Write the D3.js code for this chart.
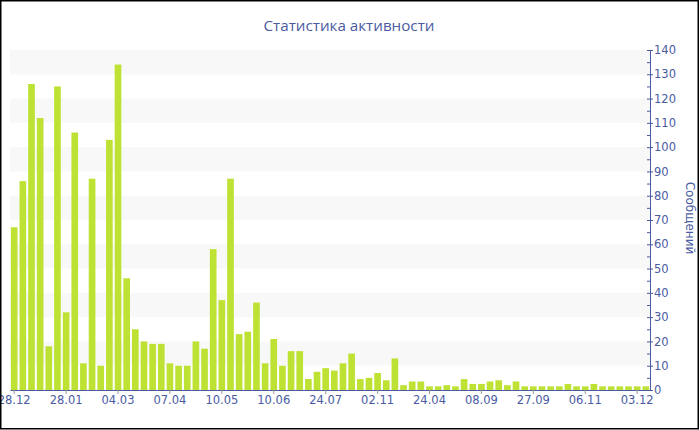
<!DOCTYPE html>
<html lang='ru'>
<head>
  <meta charset='UTF-8'/>
  <title>Статистика активности</title>
  <script src='https://d3js.org/d3.v7.min.js'></script>
  <style>
    body { margin: 0; background: #fff; }
    svg text { font-family: 'DejaVu Sans', Verdana, sans-serif; }
  </style>
</head>
<body>
  <div id="chart"></div>
<script>

// messages per period
const values = [
  67, 86, 126, 112, 18, 125, 32, 106, 11, 87,
  10, 103, 134, 46, 25, 20, 19, 19, 11, 10,
  10, 20, 17, 58, 37, 87, 23, 24, 36, 11,
  21, 10, 16, 16, 4.5, 7.5, 9, 8, 11, 15,
  4.5, 5, 7, 4, 13, 2, 3.5, 3.5, 1.5, 1.5,
  2, 1.5, 4.5, 2.5, 2.5, 3.5, 4, 2, 3.5, 1.5,
  1.5, 1.5, 1.5, 1.5, 2.5, 1.5, 1.5, 2.5, 1.5, 1.5,
  1.5, 1.5, 1.5, 1.5
];
const categories = values.map((d, i) => i);

// labels shown under every 6th bar
const tickLabels = ['28.12', '28.01', '04.03', '07.04', '10.05', '10.06', '24.07',
                    '02.11', '24.04', '08.09', '27.09', '06.11', '03.12'];
const labelStep = 6;

const yTicks = d3.range(0, 141, 10);

const title = 'Статистика активности';
const yTitle = 'Сообщений';

const width = 700, height = 430;
const plotLeft = 10, plotRight = 650, plotTop = 50, plotBottom = 390;
const textColor = '#4a5ba2';

const svg = d3.select('#chart').append('svg')
  .attr('width', width)
  .attr('height', height);

const x = d3.scaleBand()
  .domain(categories)
  .range([plotLeft, plotRight])
  .paddingInner(0.23)
  .paddingOuter(0.1);

const y = d3.scaleLinear()
  .domain([0, 140])
  .range([plotBottom, plotTop]);

// alternating bands
svg.append('g')
  .selectAll('rect')
  .data(yTicks.filter(t => t % 20 === 10))
  .join('rect')
    .attr('x', plotLeft)
    .attr('width', plotRight - plotLeft)
    .attr('y', d => y(d + 10))
    .attr('height', d => y(d) - y(d + 10))
    .attr('fill', '#f8f8f8');

// bars
svg.append('g')
  .selectAll('rect')
  .data(values)
  .join('rect')
    .attr('x', (d, i) => x(i))
    .attr('width', x.bandwidth())
    .attr('y', d => y(d))
    .attr('height', d => y(0) - y(d))
    .attr('fill', '#bde234');

// x axis
const xAxis = svg.append('g')
  .attr('transform', `translate(0,${plotBottom})`)
  .call(d3.axisBottom(x)
    .tickValues(categories.filter(i => i % labelStep === 0))
    .tickFormat(i => tickLabels[i / labelStep])
    .tickSize(4)
    .tickSizeOuter(0));
xAxis.select('.domain').attr('stroke', textColor);
xAxis.selectAll('.tick line').attr('stroke', '#999');
xAxis.selectAll('.tick text')
  .attr('fill', textColor)
  .attr('font-size', 11.5)
  .attr('y', 6);

// y axis, minor ticks first
const yMinor = svg.append('g')
  .attr('transform', `translate(${plotRight},0)`)
  .call(d3.axisRight(y)
    .tickValues(d3.range(5, 140, 10))
    .tickSize(0)
    .tickFormat(''));
yMinor.select('.domain').remove();
yMinor.selectAll('.tick line').attr('x1', -3).attr('x2', 0).attr('stroke', textColor);

const yAxis = svg.append('g')
  .attr('transform', `translate(${plotRight},0)`)
  .call(d3.axisRight(y)
    .tickValues(yTicks)
    .tickSize(3)
    .tickSizeOuter(0));
yAxis.select('.domain').attr('stroke', textColor);
yAxis.selectAll('.tick line').attr('x1', -3).attr('stroke', textColor);
yAxis.selectAll('.tick text')
  .attr('fill', textColor)
  .attr('font-size', 11.5)
  .attr('x', 4);

svg.append('text')
  .attr('transform', `translate(686,218) rotate(90)`)
  .attr('text-anchor', 'middle')
  .attr('font-size', 12)
  .attr('fill', textColor)
  .text(yTitle);

svg.append('text')
  .attr('x', 349)
  .attr('y', 31)
  .attr('text-anchor', 'middle')
  .attr('font-size', 15.2)
  .style('font-family', "'Open Sans', sans-serif")
  .attr('fill', textColor)
  .text(title);

// frame
svg.append('rect')
  .attr('x', 0.75)
  .attr('y', 0.75)
  .attr('width', 697.5)
  .attr('height', 428)
  .attr('fill', 'none')
  .attr('stroke', '#000')
  .attr('stroke-width', 1.5);

</script>
</body>
</html>
